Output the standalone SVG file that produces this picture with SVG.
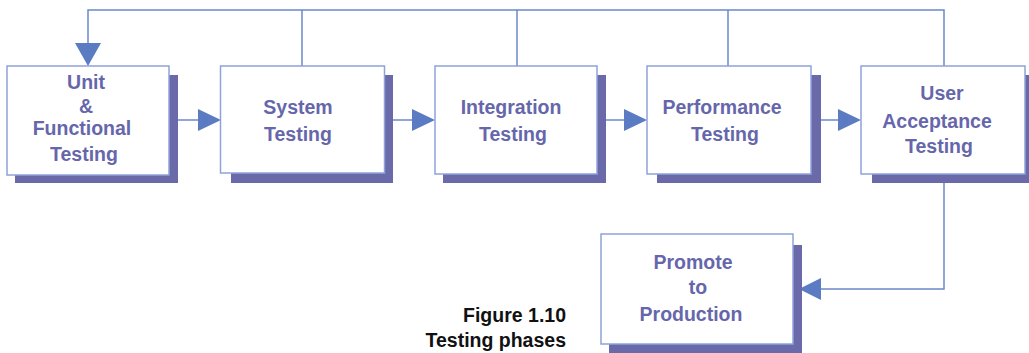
<svg xmlns="http://www.w3.org/2000/svg" width="1029" height="353" viewBox="0 0 1029 353">
<style>
.shadow{fill:#6a6aaa}
.box{fill:#ffffff;stroke:#8ea3da;stroke-width:1.5}
.lbl{font-family:"Liberation Sans",Arial,sans-serif;font-weight:bold;font-size:19.5px;fill:#6666ab;text-anchor:middle}
.cap{font-family:"Liberation Sans",Arial,sans-serif;font-weight:bold;font-size:19.5px;fill:#111111;text-anchor:end}
.ln{fill:none;stroke:#6b88cc;stroke-width:1.5}
.ah{fill:#5b7cc2}
</style>
<rect width="1029" height="353" fill="#ffffff"/>
<g id="connectors">
<polyline class="ln" points="944,66 944,10 88,10 88,44"/>
<line class="ln" x1="302" y1="10" x2="302" y2="66"/>
<line class="ln" x1="517" y1="10" x2="517" y2="66"/>
<line class="ln" x1="728" y1="10" x2="728" y2="66"/>
<polygon class="ah" points="75,43 101,43 88,66"/>
<line class="ln" x1="169" y1="120" x2="199" y2="120"/>
<polygon class="ah" points="198,109 221,120 198,131"/>
<line class="ln" x1="385" y1="120" x2="413" y2="120"/>
<polygon class="ah" points="412,109 435,120 412,131"/>
<line class="ln" x1="597" y1="120" x2="625" y2="120"/>
<polygon class="ah" points="624,109 647,120 624,131"/>
<line class="ln" x1="811" y1="120" x2="839" y2="120"/>
<polygon class="ah" points="838,109 861,120 838,131"/>
<polyline class="ln" points="944,174 944,289 820,289"/>
<polygon class="ah" points="821,278 799,289 821,300"/>
</g>
<g id="unit">
<rect class="shadow" x="15" y="75" width="163" height="108"/>
<rect class="box" x="7" y="66" width="162" height="109"/>
<text class="lbl" x="86" y="89">Unit</text>
<text class="lbl" x="86" y="113">&amp;</text>
<text class="lbl" x="82" y="135">Functional</text>
<text class="lbl" x="84" y="161">Testing</text>
</g>
<g id="system">
<rect class="shadow" x="231" y="75" width="162" height="108"/>
<rect class="box" x="220.5" y="66" width="164" height="107"/>
<text class="lbl" x="298" y="114">System</text>
<text class="lbl" x="298" y="141">Testing</text>
</g>
<g id="integration">
<rect class="shadow" x="443" y="75" width="163" height="108"/>
<rect class="box" x="435" y="66" width="162" height="108"/>
<text class="lbl" x="511" y="114">Integration</text>
<text class="lbl" x="513" y="141">Testing</text>
</g>
<g id="performance">
<rect class="shadow" x="657" y="75" width="164" height="108"/>
<rect class="box" x="647" y="66" width="164" height="108"/>
<text class="lbl" x="722" y="114">Performance</text>
<text class="lbl" x="725" y="141">Testing</text>
</g>
<g id="uat">
<rect class="shadow" x="872" y="75" width="157" height="108"/>
<rect class="box" x="861" y="66" width="164" height="108"/>
<text class="lbl" x="942" y="100">User</text>
<text class="lbl" x="937" y="128">Acceptance</text>
<text class="lbl" x="939" y="153">Testing</text>
</g>
<g id="promote">
<rect class="shadow" x="609" y="245" width="193" height="108"/>
<rect class="box" x="601" y="234" width="192" height="110"/>
<text class="lbl" x="693" y="269">Promote</text>
<text class="lbl" x="698" y="294">to</text>
<text class="lbl" x="691" y="321">Production</text>
</g>
<g id="caption">
<text class="cap" x="566" y="322">Figure 1.10</text>
<text class="cap" x="566" y="347">Testing phases</text>
</g>
</svg>
